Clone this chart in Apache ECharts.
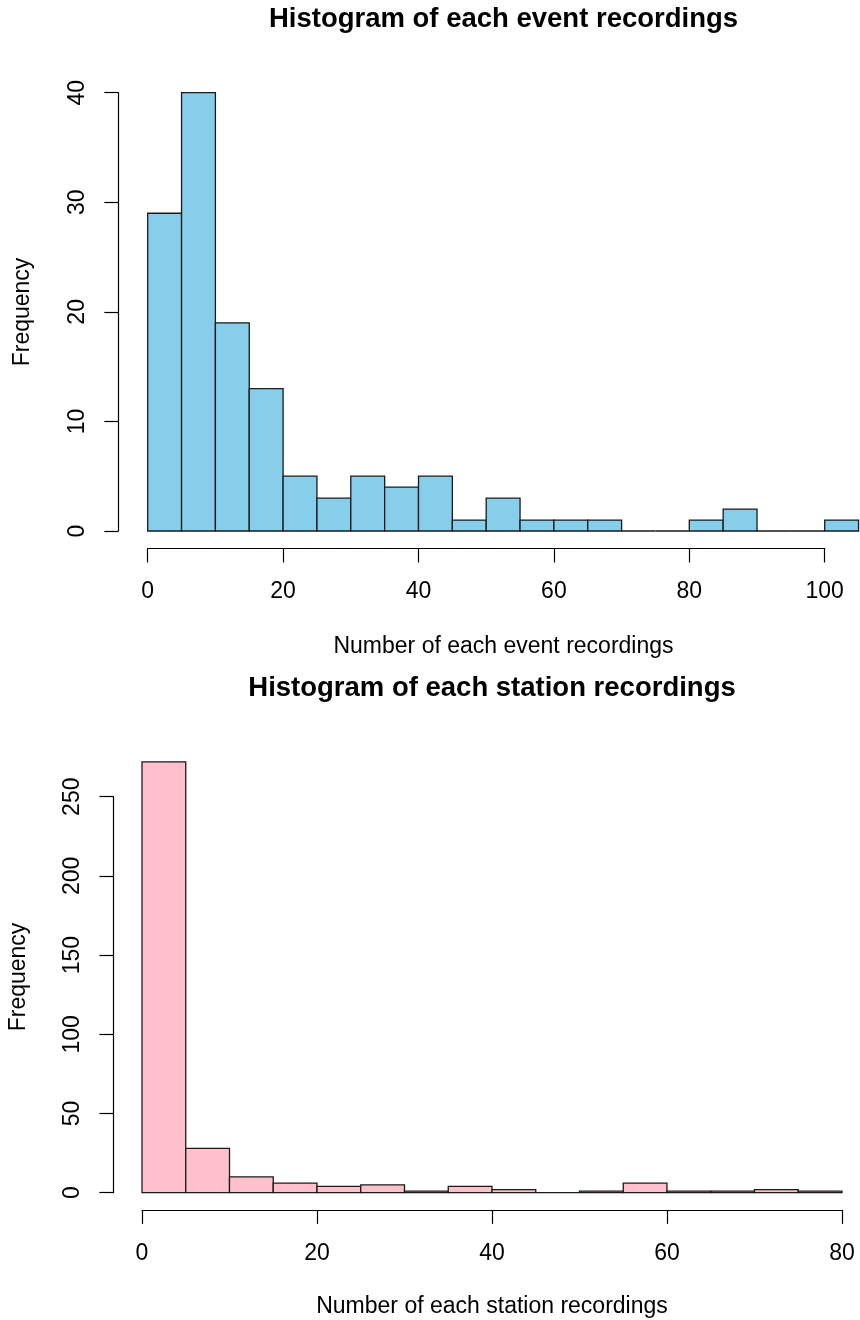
<!DOCTYPE html>
<html>
<head>
<meta charset="utf-8">
<script src="https://cdn.jsdelivr.net/npm/echarts@6/dist/echarts.min.js"></script>
<style>
html,body{margin:0;padding:0;background:#fff;}
#chart{width:860px;height:1320px;}
</style>
</head>
<body>
<div id="chart"></div>
<script>
// ---- data ----
var eventBreaks = [0,5,10,15,20,25,30,35,40,45,50,55,60,65,70,75,80,85,90,95,100,105];
var eventCounts = [29,40,19,13,5,3,5,4,5,1,3,1,1,1,0,0,1,2,0,0,1];
var stationBreaks = [0,5,10,15,20,25,30,35,40,45,50,55,60,65,70,75,80];
var stationCounts = [272,28,10,6,4,5,1,4,2,0,1,6,1,1,2,1];

var eventTitle = "Histogram of each event recordings";
var stationTitle = "Histogram of each station recordings";
var eventXName = "Number of each event recordings";
var stationXName = "Number of each station recordings";
var yName = "Frequency";

function toBins(breaks, counts){
  var out = [];
  for (var i = 0; i < counts.length; i++) out.push([breaks[i], breaks[i+1], counts[i]]);
  return out;
}

var FONT = "'Liberation Sans', Arial, Helvetica, sans-serif";
var AX = '#000';

function renderBar(fill){
  return function(params, api){
    var p0 = api.coord([api.value(0), 0]);
    var p1 = api.coord([api.value(1), api.value(2)]);
    return {
      type: 'rect',
      shape: {x: p0[0], y: p1[1], width: p1[0]-p0[0], height: p0[1]-p1[1]},
      style: {fill: fill, stroke: '#1a1a1a', lineWidth: 1.3}
    };
  };
}

function xAxisCfg(grid, max, offset){
  return {
    gridIndex: grid, type: 'value', min: 0, max: max, interval: 20, position: 'bottom', offset: offset,
    axisLine: {show: true, onZero: false, lineStyle: {color: AX, width: 1.2}},
    axisTick: {show: true, length: 14, lineStyle: {color: AX, width: 1.2}},
    axisLabel: {color: '#000', fontSize: 23, fontFamily: FONT, margin: 32},
    splitLine: {show: false}
  };
}
function yAxisCfg(grid, max, interval, offset){
  return {
    gridIndex: grid, type: 'value', min: 0, max: max, interval: interval, position: 'left', offset: offset,
    axisLine: {show: true, onZero: false, lineStyle: {color: AX, width: 1.2}},
    axisTick: {show: true, length: 14, lineStyle: {color: AX, width: 1.2}},
    axisLabel: {color: '#000', fontSize: 23, fontFamily: FONT, margin: 29, rotate: 90},
    splitLine: {show: false}
  };
}

var chart = echarts.init(document.getElementById('chart'), null, {renderer: 'canvas'});
chart.setOption({
  backgroundColor: '#fff',
  animation: false,
  grid: [
    {left: 147.7, top: 92.7, width: 677, height: 438.3},
    {left: 142, top: 796.7, width: 700, height: 396}
  ],
  xAxis: [xAxisCfg(0, 100, 17.5), xAxisCfg(1, 80, 17.2)],
  yAxis: [yAxisCfg(0, 40, 10, 29.4), yAxisCfg(1, 250, 50, 28.6)],
  series: [
    {type: 'custom', xAxisIndex: 0, yAxisIndex: 0, clip: false, renderItem: renderBar('#87CEEB'),
     encode: {x: [0,1], y: 2}, data: toBins(eventBreaks, eventCounts)},
    {type: 'custom', xAxisIndex: 1, yAxisIndex: 1, clip: false, renderItem: renderBar('#FFC0CB'),
     encode: {x: [0,1], y: 2}, data: toBins(stationBreaks, stationCounts)}
  ],
  graphic: [
    {type: 'text', x: 503.5, y: 19.5, style: {text: eventTitle, fill: '#000', font: 'bold 27.5px ' + FONT, textAlign: 'center', textVerticalAlign: 'middle'}},
    {type: 'text', x: 492, y: 688.5, style: {text: stationTitle, fill: '#000', font: 'bold 27.5px ' + FONT, textAlign: 'center', textVerticalAlign: 'middle'}},
    {type: 'text', x: 503.5, y: 647, style: {text: eventXName, fill: '#000', font: '23px ' + FONT, textAlign: 'center', textVerticalAlign: 'middle'}},
    {type: 'text', x: 492, y: 1307, style: {text: stationXName, fill: '#000', font: '23px ' + FONT, textAlign: 'center', textVerticalAlign: 'middle'}},
    {type: 'text', x: 23, y: 312, rotation: Math.PI/2, style: {text: yName, fill: '#000', font: '23px ' + FONT, textAlign: 'center', textVerticalAlign: 'middle'}},
    {type: 'text', x: 19, y: 977, rotation: Math.PI/2, style: {text: yName, fill: '#000', font: '23px ' + FONT, textAlign: 'center', textVerticalAlign: 'middle'}}
  ]
});
</script>
</body>
</html>
